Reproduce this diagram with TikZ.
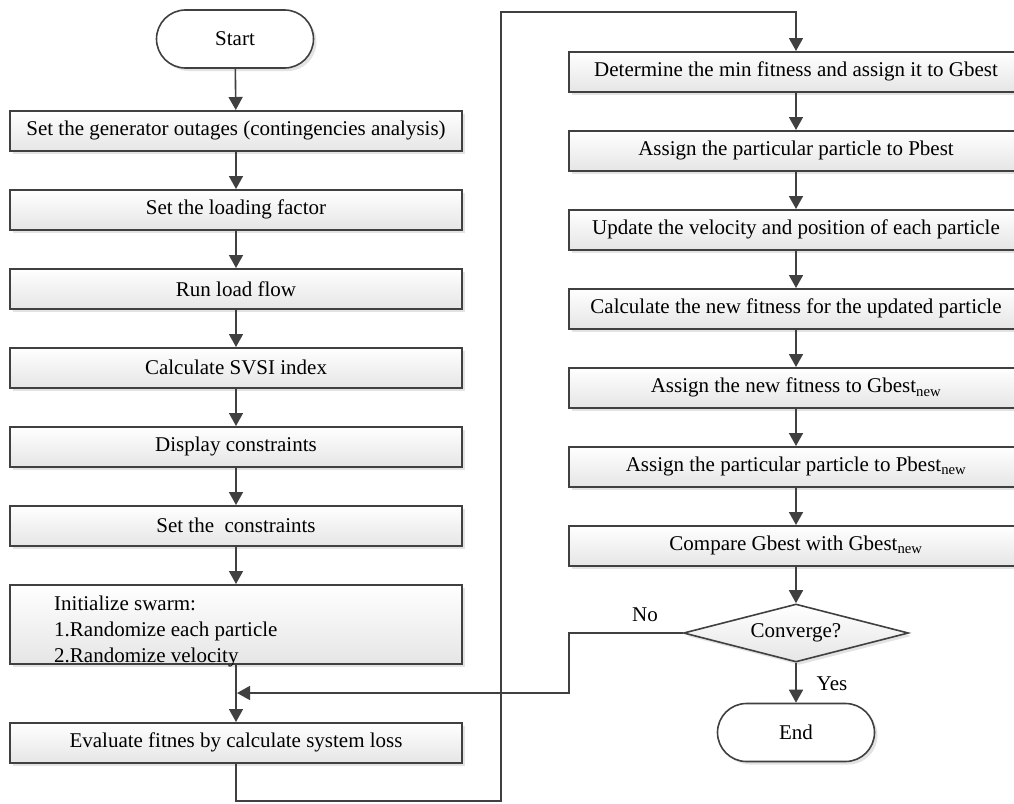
\documentclass[tikz,border=0pt]{standalone}
\usepackage{fontspec}
\setmainfont{Liberation Serif}
\usetikzlibrary{shapes.geometric,shadows,arrows.meta}
\definecolor{ln}{HTML}{404040}
\begin{document}
\begin{tikzpicture}[x=1pt,y=-1pt,
  font=\fontsize{21}{26}\selectfont,
  line/.style={draw=ln, line width=1.6pt},
  arr/.style={draw=ln, line width=1.6pt, -{Triangle[length=13pt,width=14pt]}},
  shadowed/.style={drop shadow={opacity=0.22,shadow xshift=3pt,shadow yshift=-3pt}},
  proc/.style={draw=ln, line width=1.6pt, top color=white, bottom color=gray!20,
     shadowed, minimum height=40pt, inner sep=0pt, anchor=north},
  lbox/.style={proc, minimum width=452pt},
  rbox/.style={proc, minimum width=454pt},
  pill/.style={draw=ln, line width=1.6pt, fill=white, shadowed, rounded corners=29pt,
     minimum width=157pt, minimum height=58pt, inner sep=0pt},
  decision/.style={diamond, draw=ln, line width=1.6pt, top color=white, bottom color=gray!20,
     shadowed, aspect=3.88, minimum width=225pt, minimum height=58pt, inner sep=0pt},
  lbl/.style={inner sep=0pt}
]
\useasboundingbox (0,0) rectangle (1014,803);
\fill[white] (0,0) rectangle (1014,803);

% left column
\node[pill] (start) at (235,39) {Start};
\node[lbox] (b1) at (236,110) {Set the generator outages (contingencies analysis)};
\node[lbox] (b2) at (236,189) {Set the loading factor};
\node[lbox] (b3) at (236,268) {Run load flow};
\node[lbox] (b4) at (236,347) {Calculate SVSI index};
\node[lbox] (b5) at (236,426) {Display constraints};
\node[lbox] (b6) at (236,505) {Set the\ \ constraints};
\node[lbox, minimum height=79pt] (init) at (236,584) {};
\node[lbl, anchor=base west] (initA) at (54,610) {Initialize swarm:};
\node[lbl, anchor=base west] (initB) at (54,636) {1.Randomize each particle};
\node[lbl, anchor=base west] (initC) at (54,662) {2.Randomize velocity};
\node[lbox] (eval) at (236,722) {Evaluate fitnes by calculate system loss};

% right column
\node[rbox] (r1) at (796,51) {Determine the min fitness and assign it to Gbest};
\node[rbox] (r2) at (796,130) {Assign the particular particle to Pbest};
\node[rbox] (r3) at (796,209) {Update the velocity and position of each particle};
\node[rbox] (r4) at (796,288) {Calculate the new fitness for the updated particle};
\node[rbox] (r5) at (796,367) {Assign the new fitness to Gbest\textsubscript{new}};
\node[rbox] (r6) at (796,446) {Assign the particular particle to Pbest\textsubscript{new}};
\node[rbox] (r7) at (796,525) {Compare Gbest with Gbest\textsubscript{new}};
\node[decision] (conv) at (796,633) {Converge?};
\node[pill] (end) at (796,732.5) {End};

\node[lbl] (no) at (645,615) {No};
\node[lbl] (yes) at (832,684) {Yes};

% junction coordinates
\coordinate (jn) at (236,693);
\coordinate (fb1) at (569,633);
\coordinate (fb2) at (569,693);
\coordinate (lp1) at (236,801);
\coordinate (lp2) at (501,801);
\coordinate (lp3) at (501,12);
\coordinate (lp4) at (796,12);

% left arrows
\draw[arr] (start) -- (b1);
\draw[arr] (b1) -- (b2);
\draw[arr] (b2) -- (b3);
\draw[arr] (b3) -- (b4);
\draw[arr] (b4) -- (b5);
\draw[arr] (b5) -- (b6);
\draw[arr] (b6) -- (init);
\draw[arr] (init) -- (eval);

% right arrows
\draw[arr] (r1) -- (r2);
\draw[arr] (r2) -- (r3);
\draw[arr] (r3) -- (r4);
\draw[arr] (r4) -- (r5);
\draw[arr] (r5) -- (r6);
\draw[arr] (r6) -- (r7);
\draw[arr] (r7) -- (conv);
\draw[arr] (conv) -- (end);

% feedback and loop
\draw[arr] (conv.west) -- (fb1) -- (fb2) -- ([xshift=1pt]jn);
\draw[arr] (eval.south) -- (lp1) -- (lp2) -- (lp3) -- (lp4) -- (r1.north);
\end{tikzpicture}
\end{document}
